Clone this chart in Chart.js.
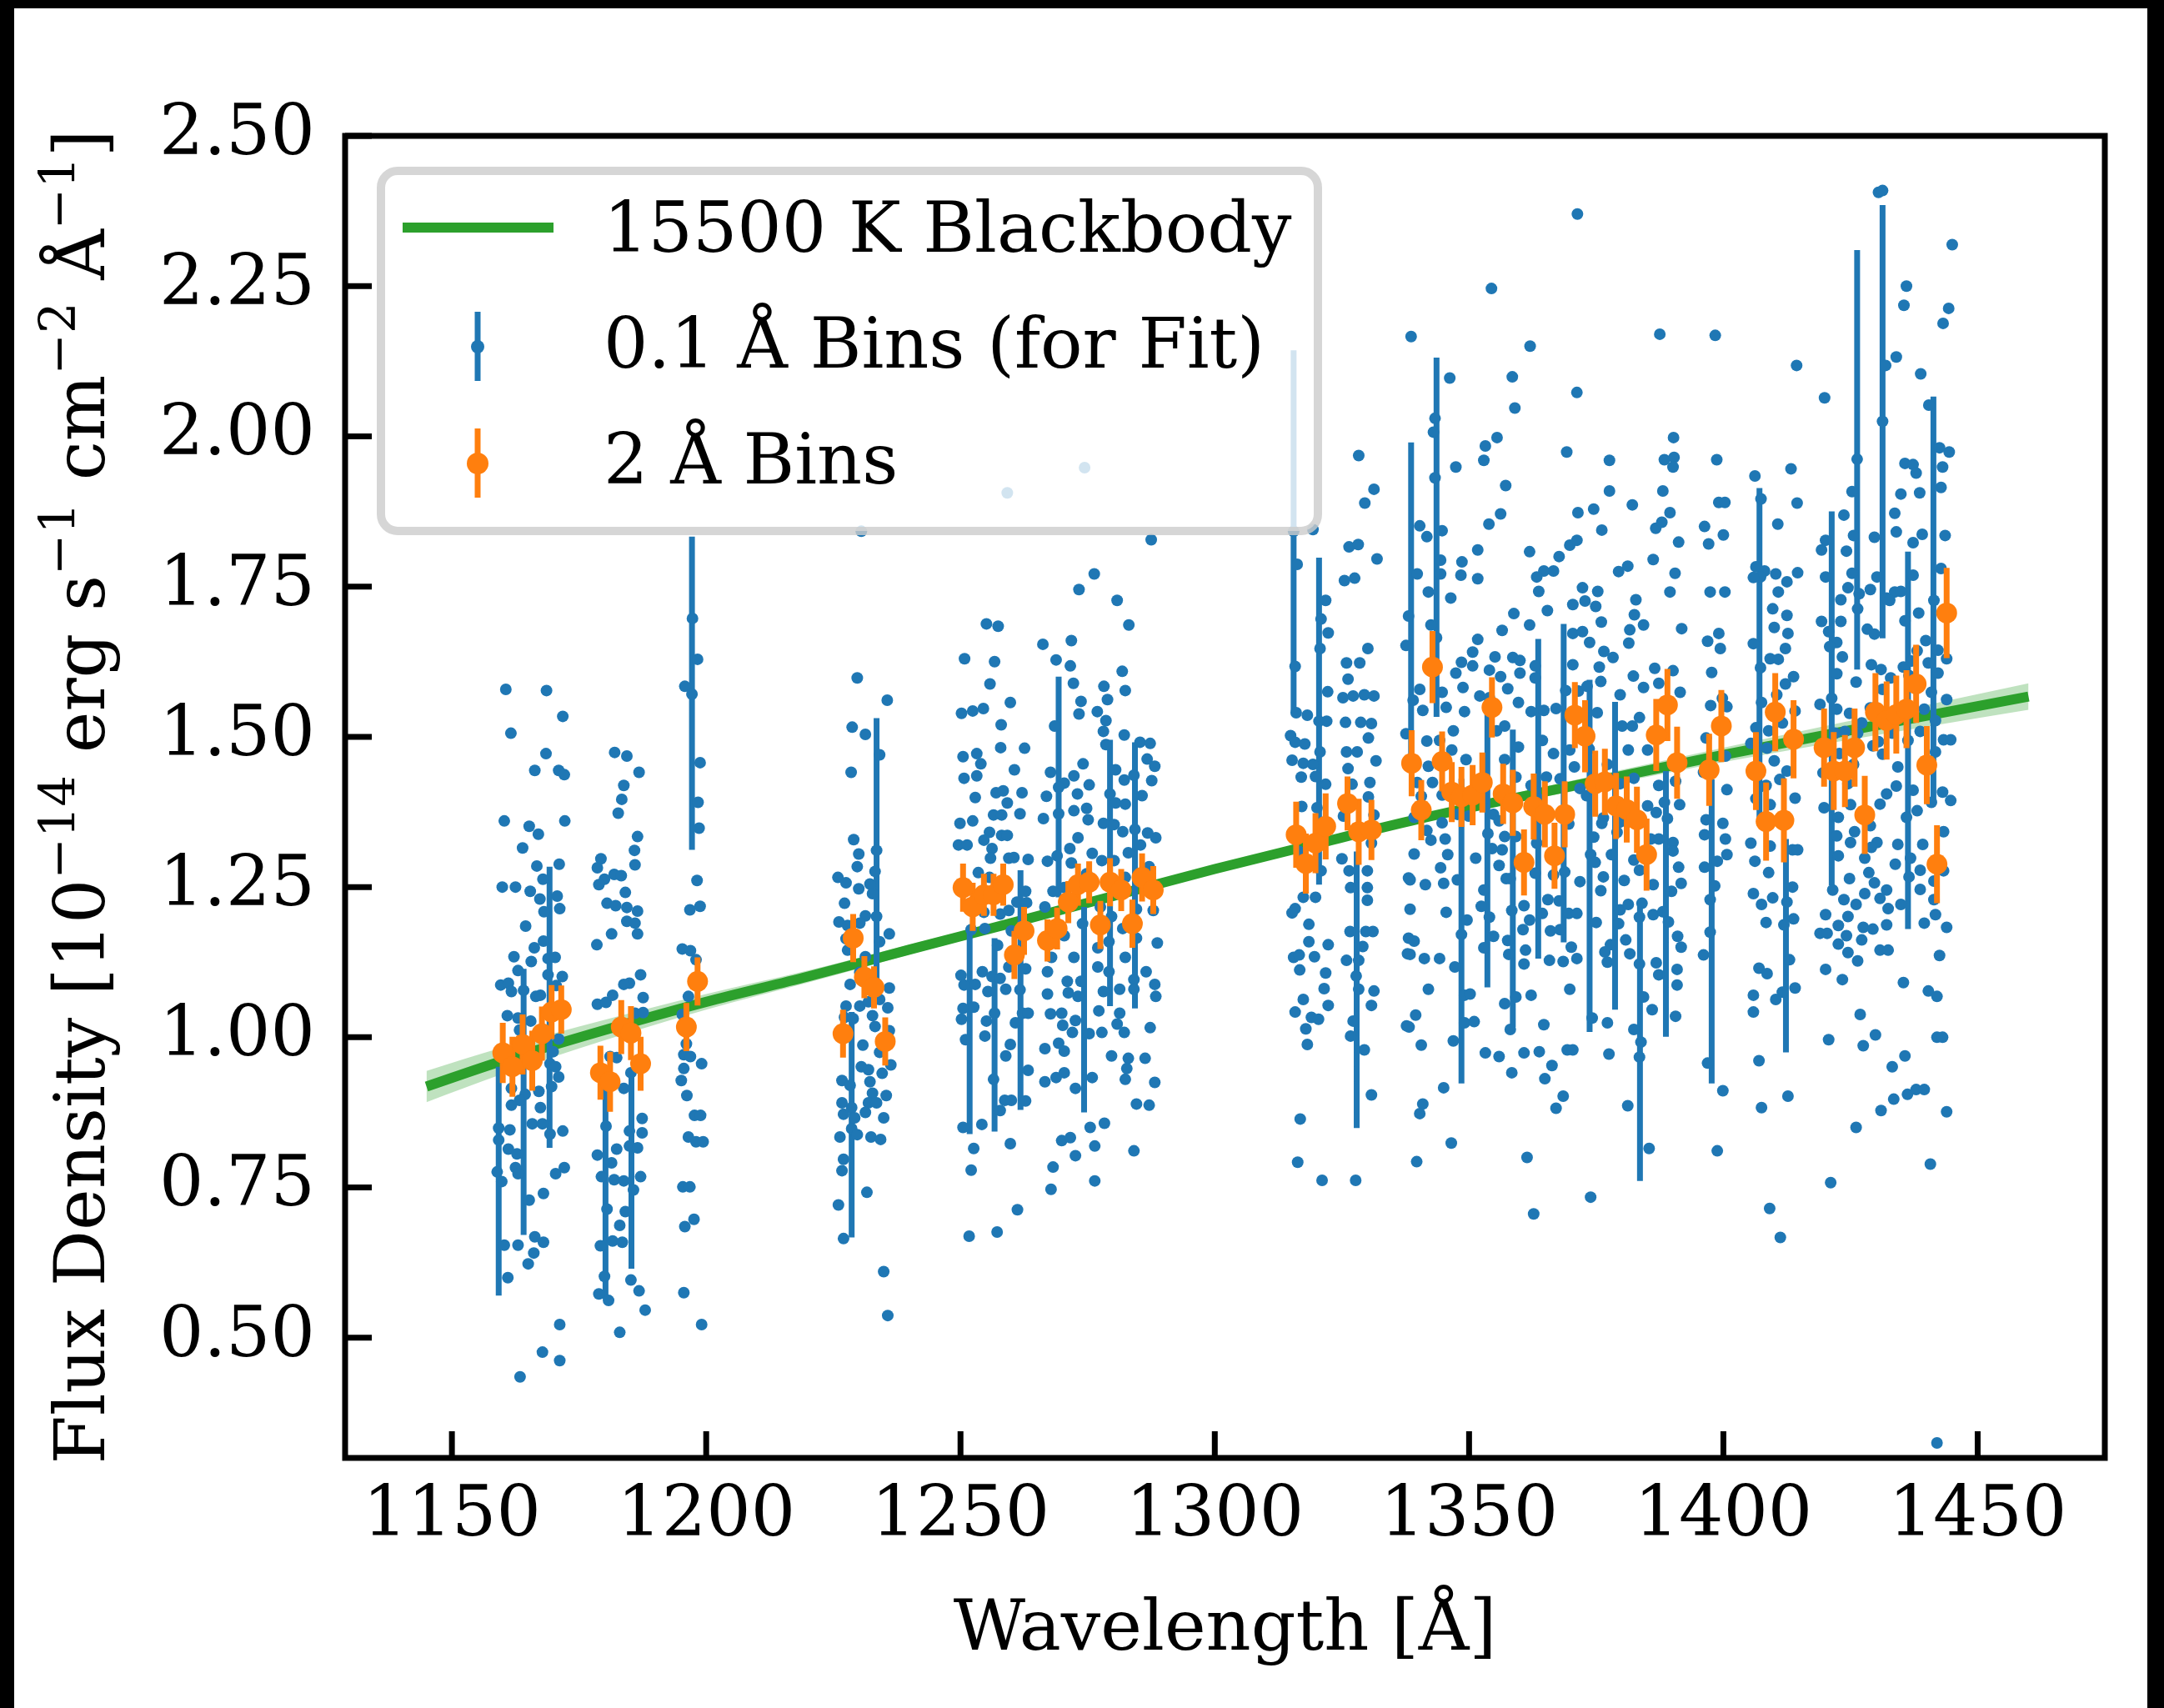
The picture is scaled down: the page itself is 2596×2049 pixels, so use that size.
<!DOCTYPE html>
<html>
<head>
<meta charset="utf-8">
<title>15500 K Blackbody fit</title>
<script src="https://cdn.jsdelivr.net/npm/chart.js@4.4.1/dist/chart.umd.min.js"></script>
<style>
  html, body { margin: 0; padding: 0; background: #fff; }
  canvas { display: block; }
</style>
</head>
<body>
<canvas id="fluxChart" width="2596" height="2049" style="width:2596px;height:2049px"></canvas>
<script>
// ─── Data ───────────────────────────────────────────────────────────────────

// Blackbody model curve and the half-width of its shaded uncertainty band
const bbWave = [1145, 1160, 1180, 1200, 1220, 1240, 1260, 1280, 1300, 1320, 1340, 1360, 1380, 1400, 1420, 1440, 1460];
const bbFlux = [0.918, 0.961, 1.012, 1.059, 1.101, 1.146, 1.190, 1.235, 1.280, 1.322, 1.363, 1.400, 1.435, 1.470, 1.503, 1.535, 1.567];
const bbBand = [0.026, 0.022, 0.017, 0.013, 0.010, 0.008, 0.007, 0.006, 0.006, 0.006, 0.007, 0.008, 0.010, 0.012, 0.015, 0.018, 0.022];

// 2 Å bins (orange)
const binWave = [
  1160.0, 1161.9, 1163.9, 1165.8, 1167.7, 1169.6, 1171.5,
  1179.2, 1181.1, 1183.3, 1185.2, 1187.1,
  1196.1, 1198.3,
  1226.9, 1228.9, 1231.1, 1233.0, 1235.2,
  1250.5, 1252.4, 1254.6, 1256.5, 1258.4, 1260.6, 1262.5, 1267.1, 1269.0, 1271.2, 1273.1, 1275.3, 1277.5, 1279.4, 1281.6, 1283.8, 1285.7, 1287.9,
  1316.0, 1317.9, 1319.8, 1321.8, 1326.1, 1328.3, 1330.8,
  1338.7, 1340.6, 1342.8, 1344.7, 1346.6, 1348.5, 1350.7, 1352.6, 1354.5, 1356.7, 1358.6, 1360.8, 1362.7, 1364.9, 1366.8, 1368.8, 1370.8,
  1372.8, 1374.8, 1376.7, 1378.9, 1381.0, 1383.0, 1384.9, 1386.8, 1389.0, 1390.9, 1397.2, 1399.6,
  1406.4, 1408.4, 1410.2, 1411.9, 1413.8, 1419.8, 1421.7, 1423.9, 1425.8, 1427.8, 1429.9, 1432.1, 1434.0, 1436.0, 1437.9, 1440.0, 1442.0, 1443.9
];
const binFlux = [
  0.974, 0.951, 0.988, 0.961, 1.006, 1.042, 1.046,
  0.941, 0.926, 1.017, 1.007, 0.956,
  1.017, 1.093,
  1.006, 1.165, 1.100, 1.083, 0.993,
  1.249, 1.217, 1.237, 1.237, 1.254, 1.137, 1.177, 1.161, 1.181, 1.225, 1.254, 1.258, 1.187, 1.258, 1.245, 1.189, 1.266, 1.245,
  1.337, 1.289, 1.323, 1.351, 1.389, 1.342, 1.345,
  1.456, 1.378, 1.616, 1.459, 1.408, 1.400, 1.403, 1.424, 1.549, 1.405, 1.390, 1.291, 1.384, 1.371, 1.302, 1.371, 1.536,
  1.501, 1.422, 1.425, 1.385, 1.379, 1.362, 1.304, 1.503, 1.553, 1.457, 1.445, 1.518,
  1.443, 1.359, 1.541, 1.361, 1.496, 1.482, 1.443, 1.443, 1.482, 1.370, 1.541, 1.527, 1.537, 1.546, 1.588, 1.453, 1.288, 1.706
];
const binErr = [
  0.050, 0.050, 0.050, 0.050, 0.045, 0.045, 0.040,
  0.045, 0.050, 0.045, 0.045, 0.045,
  0.040, 0.040,
  0.040, 0.040, 0.035, 0.035, 0.040,
  0.040, 0.040, 0.035, 0.035, 0.035, 0.040, 0.040, 0.035, 0.035, 0.035, 0.035, 0.035, 0.040, 0.040, 0.035, 0.040, 0.040, 0.040,
  0.055, 0.050, 0.050, 0.055, 0.045, 0.055, 0.050,
  0.055, 0.050, 0.060, 0.050, 0.050, 0.050, 0.050, 0.050, 0.050, 0.050, 0.055, 0.055, 0.055, 0.055, 0.055, 0.055, 0.055,
  0.060, 0.055, 0.055, 0.055, 0.055, 0.055, 0.060, 0.060, 0.060, 0.060, 0.060, 0.060,
  0.065, 0.065, 0.065, 0.070, 0.065, 0.065, 0.065, 0.060, 0.065, 0.065, 0.065, 0.065, 0.065, 0.065, 0.065, 0.065, 0.065, 0.075
];

// 0.1 Å bins: the long error bars that stand out in the figure
const fineErrWave = [
  1159.2, 1164.1, 1169.2, 1180.2, 1185.3, 1197.2,
  1228.6, 1233.5, 1251.8, 1256.7, 1261.8, 1269.3,
  1274.3, 1279.4, 1284.3, 1315.5, 1320.5, 1327.9,
  1338.6, 1343.6, 1348.5, 1353.6, 1358.6, 1363.6,
  1368.6, 1373.7, 1378.7, 1383.6, 1388.7, 1397.7,
  1407.1, 1412.3, 1421.3, 1426.3, 1431.3, 1436.3, 1441.3
];
const fineErrLow = [
  0.570, 0.671, 0.816, 0.565, 0.615, 1.312,
  0.667, 1.067, 0.839, 0.843, 0.879, 1.233,
  0.875, 1.052, 1.048, 1.542, 1.254, 0.849,
  1.450, 1.533, 0.923, 1.083, 1.017, 1.131,
  1.158, 1.009, 1.046, 0.761, 1.001, 0.923,
  1.352, 0.975, 1.253, 1.612, 1.664, 1.180, 1.391
];
const fineErrHigh = [
  0.951, 1.114, 1.284, 0.926, 0.946, 1.833,
  1.042, 1.531, 1.185, 1.165, 1.278, 1.600,
  1.217, 1.495, 1.491, 2.143, 1.798, 1.309,
  1.990, 2.131, 1.430, 1.558, 1.512, 1.663,
  1.688, 1.595, 1.558, 1.221, 1.443, 1.429,
  1.914, 1.330, 1.875, 2.310, 2.385, 1.808, 2.066
];

// 0.1 Å bins (blue), [wavelength, flux], one array per spectral window
const fine1160 = [
  [1160.6,1.579],[1168.6,1.577],[1161.6,1.506],[1171.8,1.534],[1168.5,1.472],[1166.3,1.444],[1171.0,1.444],[1172.1,1.437],
  [1160.3,1.360],[1165.2,1.351],[1167.0,1.338],[1172.2,1.360],[1163.9,1.315],[1166.7,1.285],[1171.1,1.288],[1159.9,1.250],
  [1162.5,1.250],[1165.4,1.243],[1167.9,1.263],[1167.3,1.230],[1170.7,1.235],[1171.2,1.214],[1168.1,1.209],[1164.5,1.185],
  [1166.2,1.149],[1168.0,1.160],[1162.2,1.134],[1165.6,1.126],[1168.9,1.131],[1170.3,1.133],[1163.0,1.111],[1159.6,1.087],
  [1161.1,1.090],[1161.7,1.076],[1164.1,1.078],[1168.9,1.104],[1171.7,1.101],[1170.5,1.086],[1166.5,1.068],[1167.4,1.070],
  [1160.9,1.036],[1163.0,1.032],[1165.5,1.027],[1163.3,1.012],[1171.0,0.997],[1169.9,0.976],[1169.3,0.956],[1170.4,0.951],
  [1161.7,0.915],[1164.4,0.905],[1167.1,0.910],[1169.6,0.918],[1171.0,0.934],[1163.3,0.895],[1167.4,0.883],[1161.7,0.887],
  [1165.8,0.856],[1167.8,0.856],[1159.2,0.849],[1161.4,0.846],[1169.3,0.839],[1171.8,0.844],[1159.2,0.829],[1161.1,0.814],
  [1162.8,0.806],[1162.5,0.783],[1158.9,0.776],[1159.8,0.760],[1170.4,0.773],[1172.1,0.783],[1163.0,0.773],[1165.2,0.729],
  [1168.0,0.740],[1160.3,0.654],[1163.0,0.654],[1166.3,0.668],[1168.0,0.659],[1166.1,0.641],[1165.0,0.623],[1161.0,0.600],
  [1171.2,0.522],[1167.8,0.476],[1171.2,0.462],[1163.4,0.435]
];
const fine1180 = [
  [1182.0,1.474],[1184.4,1.468],[1186.8,1.441],[1183.8,1.419],[1183.4,1.396],[1182.7,1.373],[1186.5,1.334],[1185.9,1.311],
  [1186.0,1.287],[1179.3,1.297],[1178.6,1.282],[1180.0,1.263],[1178.9,1.254],[1181.9,1.271],[1183.3,1.269],[1184.1,1.241],
  [1180.5,1.223],[1182.2,1.219],[1184.4,1.216],[1186.5,1.210],[1184.4,1.193],[1186.0,1.190],[1186.5,1.172],[1181.4,1.172],
  [1178.5,1.154],[1187.1,1.104],[1184.9,1.090],[1183.8,1.088],[1187.6,1.066],[1178.6,1.055],[1180.3,1.058],[1181.6,1.070],
  [1186.0,1.040],[1187.6,1.041],[1181.1,0.968],[1182.4,0.966],[1185.2,0.941],[1183.8,0.915],[1180.3,0.905],[1187.4,0.865],
  [1180.3,0.852],[1184.9,0.844],[1187.4,0.841],[1182.4,0.814],[1184.9,0.819],[1186.5,0.816],[1178.6,0.804],[1181.4,0.791],
  [1179.4,0.768],[1181.9,0.763],[1183.8,0.761],[1187.1,0.768],[1185.7,0.746],[1180.5,0.714],[1184.1,0.710],[1183.0,0.687],
  [1181.6,0.661],[1183.5,0.659],[1179.2,0.653],[1180.0,0.602],[1178.9,0.573],[1180.8,0.562],[1185.2,0.596],[1186.8,0.578],
  [1188.0,0.546],[1183.0,0.509]
];
const fine1197 = [
  [1197.3,1.697],[1198.3,1.629],[1195.8,1.584],[1197.2,1.571],[1198.8,1.457],[1198.4,1.391],[1198.6,1.348],[1198.2,1.261],
  [1196.8,1.212],[1198.8,1.218],[1195.3,1.147],[1196.9,1.144],[1198.0,1.129],[1196.5,1.068],[1195.3,1.038],[1196.1,0.989],
  [1195.6,0.971],[1196.9,0.968],[1199.1,0.956],[1195.6,0.948],[1195.1,0.928],[1196.2,0.903],[1197.7,0.870],[1198.9,0.870],
  [1196.5,0.834],[1198.0,0.826],[1199.4,0.826],[1195.4,0.751],[1196.8,0.751],[1195.8,0.685],[1197.6,0.697],[1195.6,0.575],
  [1199.1,0.522]
];
const fine1230 = [
  [1229.7,1.598],[1235.6,1.561],[1228.7,1.516],[1231.3,1.504],[1234.1,1.470],[1228.5,1.441],[1229.0,1.329],[1230.0,1.305],
  [1233.5,1.311],[1229.7,1.284],[1225.9,1.266],[1227.5,1.257],[1233.2,1.276],[1232.2,1.255],[1230.0,1.247],[1232.7,1.239],
  [1227.2,1.223],[1231.3,1.202],[1233.5,1.201],[1226.1,1.192],[1230.2,1.190],[1227.8,1.186],[1227.5,1.164],[1227.8,1.145],
  [1236.0,1.172],[1234.1,1.159],[1231.3,1.134],[1228.3,1.088],[1230.2,1.108],[1236.0,1.082],[1227.5,1.052],[1230.2,1.052],
  [1231.9,1.059],[1234.1,1.063],[1235.7,1.049],[1227.2,1.033],[1228.9,1.031],[1232.7,1.036],[1233.2,1.018],[1236.0,1.011],
  [1230.8,0.987],[1234.1,0.975],[1230.5,0.951],[1231.9,0.946],[1236.3,0.954],[1234.6,0.940],[1226.7,0.928],[1228.3,0.920],
  [1232.2,0.926],[1232.7,0.907],[1235.4,0.903],[1226.7,0.891],[1228.6,0.883],[1231.9,0.891],[1233.5,0.891],[1227.0,0.872],
  [1229.2,0.866],[1231.3,0.875],[1234.9,0.866],[1228.6,0.848],[1229.7,0.838],[1226.3,0.834],[1232.4,0.834],[1234.3,0.830],
  [1227.0,0.797],[1226.7,0.778],[1231.6,0.742],[1226.0,0.721],[1227.0,0.665],[1234.9,0.610],[1235.7,0.537],[1230.5,1.842]
];
const fine1270 = [
  [1287.5,1.828],[1276.3,1.771],[1273.3,1.745],[1280.8,1.727],[1283.1,1.686],[1255.1,1.688],[1257.4,1.684],[1250.8,1.630],
  [1256.7,1.625],[1266.2,1.654],[1271.8,1.660],[1268.8,1.628],[1271.6,1.618],[1272.2,1.589],[1281.8,1.609],[1282.4,1.577],
  [1255.8,1.588],[1278.2,1.584],[1278.9,1.562],[1273.7,1.559],[1273.3,1.538],[1250.2,1.539],[1252.4,1.543],[1254.5,1.547],
  [1259.8,1.557],[1276.9,1.542],[1278.6,1.527],[1278.1,1.509],[1258.0,1.520],[1268.5,1.518],[1282.2,1.503],[1285.3,1.491],
  [1287.3,1.489],[1278.6,1.487],[1257.9,1.482],[1262.6,1.481],[1250.5,1.467],[1253.2,1.472],[1254.0,1.455],[1260.6,1.445],
  [1286.7,1.463],[1288.2,1.451],[1267.7,1.441],[1272.3,1.435],[1274.1,1.455],[1275.3,1.420],[1270.4,1.423],[1280.5,1.445],
  [1282.2,1.428],[1284.1,1.436],[1287.6,1.427],[1250.7,1.431],[1253.2,1.435],[1257.0,1.407],[1258.4,1.410],[1262.1,1.407],
  [1252.9,1.399],[1259.2,1.390],[1266.9,1.401],[1273.0,1.405],[1279.4,1.405],[1280.5,1.390],[1282.4,1.388],[1285.7,1.402],
  [1256.5,1.370],[1261.7,1.372],[1258.1,1.370],[1269.3,1.372],[1272.3,1.377],[1274.8,1.381],[1266.3,1.364],[1275.1,1.362],
  [1249.9,1.356],[1252.4,1.360],[1278.1,1.356],[1280.2,1.354],[1281.9,1.342],[1284.3,1.346],[1286.8,1.340],[1288.4,1.332],
  [1255.7,1.341],[1254.6,1.328],[1258.1,1.336],[1259.2,1.336],[1249.6,1.320],[1251.3,1.320],[1256.2,1.314],[1273.1,1.332],
  [1271.5,1.314],[1285.4,1.320],[1255.9,1.298],[1259.5,1.298],[1260.5,1.299],[1263.3,1.296],[1267.1,1.293],[1269.0,1.302],
  [1271.8,1.290],[1275.9,1.306],[1277.8,1.294],[1280.2,1.294],[1283.0,1.307],[1287.1,1.284],[1253.5,1.274],[1255.7,1.266],
  [1262.8,1.243],[1268.2,1.243],[1274.8,1.272],[1282.4,1.266],[1286.8,1.258],[1261.1,1.225],[1263.0,1.224],[1266.6,1.217],
  [1270.4,1.249],[1277.5,1.217],[1279.7,1.201],[1284.6,1.213],[1287.9,1.211],[1254.6,1.208],[1257.8,1.205],[1259.5,1.211],
  [1252.1,1.179],[1254.8,1.181],[1260.0,1.177],[1274.0,1.189],[1270.4,1.169],[1281.9,1.181],[1279.2,1.159],[1284.6,1.165],
  [1288.7,1.157],[1257.3,1.153],[1267.9,1.133],[1272.3,1.133],[1277.0,1.149],[1282.4,1.133],[1259.5,1.117],[1262.8,1.114],
  [1250.1,1.103],[1250.7,1.087],[1252.9,1.088],[1254.3,1.109],[1256.2,1.101],[1257.8,1.098],[1267.1,1.109],[1271.0,1.093],
  [1273.7,1.093],[1277.0,1.117],[1279.2,1.109],[1281.3,1.080],[1284.1,1.096],[1286.5,1.109],[1288.2,1.088],[1255.4,1.076],
  [1258.9,1.080],[1261.7,1.079],[1267.1,1.072],[1271.2,1.074],[1273.1,1.068],[1278.1,1.076],[1284.1,1.080],[1288.4,1.068],
  [1250.5,1.048],[1252.6,1.050],[1256.7,1.040],[1262.2,1.040],[1267.7,1.039],[1269.9,1.040],[1272.6,1.028],[1277.2,1.044],
  [1281.3,1.040],[1250.2,1.030],[1255.1,1.027],[1260.8,1.024],[1263.3,1.040],[1270.1,1.020],[1272.0,1.008],[1275.3,1.006],
  [1277.8,1.008],[1280.8,1.022],[1282.2,1.008],[1287.3,1.016],[1251.0,0.996],[1254.8,1.002],[1259.8,0.988],[1269.3,0.990],
  [1270.4,0.977],[1279.7,0.969],[1283.0,0.965],[1286.3,0.965],[1258.9,0.969],[1266.6,0.981],[1282.7,0.948],[1282.4,0.930],
  [1256.5,0.930],[1263.3,0.945],[1266.6,0.926],[1268.8,0.933],[1270.4,0.941],[1272.6,0.915],[1275.9,0.933],[1288.2,0.925],
  [1258.7,0.895],[1257.8,0.878],[1260.0,0.895],[1262.8,0.894],[1284.6,0.889],[1287.1,0.887],[1250.5,0.850],[1254.2,0.855],
  [1259.8,0.823],[1269.9,0.828],[1271.6,0.833],[1275.5,0.850],[1278.3,0.857],[1252.6,0.815],[1272.6,0.803],[1276.4,0.819],
  [1284.1,0.811],[1252.1,0.779],[1268.2,0.784],[1276.4,0.761],[1267.8,0.747],[1261.2,0.713],[1257.2,0.676],[1251.7,0.669],
  [1259.2,1.906],[1274.4,1.948],[1269.3,1.416]
];
const fine1323 = [
  [1328.3,1.968],[1331.3,1.912],[1329.5,1.889],[1315.5,1.842],[1319.3,1.845],[1316.2,1.787],[1326.4,1.816],[1328.2,1.820],
  [1331.9,1.796],[1325.5,1.760],[1327.5,1.764],[1321.8,1.727],[1320.9,1.696],[1322.3,1.673],[1320.7,1.647],[1330.1,1.647],
  [1315.8,1.617],[1325.9,1.623],[1328.5,1.623],[1326.2,1.596],[1325.2,1.565],[1327.2,1.568],[1329.4,1.570],[1331.3,1.568],
  [1322.2,1.575],[1316.0,1.540],[1318.2,1.536],[1322.0,1.526],[1325.7,1.524],[1328.7,1.524],[1330.8,1.522],[1330.2,1.498],
  [1314.9,1.502],[1315.8,1.491],[1317.7,1.488],[1315.2,1.461],[1317.4,1.456],[1319.3,1.454],[1320.7,1.475],[1325.9,1.475],
  [1328.0,1.475],[1331.7,1.460],[1317.0,1.433],[1319.8,1.434],[1326.2,1.447],[1321.8,1.421],[1327.0,1.421],[1330.5,1.424],
  [1317.1,1.384],[1320.1,1.382],[1325.3,1.368],[1330.2,1.400],[1331.3,1.370],[1316.6,1.309],[1325.0,1.297],[1330.8,1.323],
  [1320.9,1.277],[1326.4,1.277],[1330.0,1.277],[1326.7,1.249],[1330.0,1.249],[1330.0,1.228],[1317.4,1.233],[1319.8,1.233],
  [1315.8,1.214],[1315.2,1.207],[1318.5,1.188],[1326.6,1.176],[1329.7,1.176],[1331.1,1.176],[1318.5,1.159],[1322.3,1.154],
  [1329.1,1.151],[1315.5,1.133],[1316.6,1.137],[1319.6,1.134],[1325.9,1.128],[1328.3,1.128],[1316.7,1.112],[1321.8,1.107],
  [1327.8,1.102],[1321.5,1.081],[1317.4,1.063],[1328.3,1.080],[1331.3,1.077],[1330.8,1.053],[1322.3,1.053],[1315.8,1.042],
  [1319.0,1.033],[1320.4,1.030],[1317.9,1.014],[1327.2,1.027],[1326.7,1.002],[1318.2,0.988],[1329.4,0.979],[1330.8,0.904],
  [1316.8,0.864],[1316.3,0.792],[1321.1,0.762],[1327.7,0.762],[1320.5,1.526]
];
const fine1355 = [
  [1337.6,1.652],[1337.6,1.505],[1337.9,1.139],[1337.7,1.019],[1338.1,1.701],[1338.1,1.265],[1338.1,1.165],
  [1354.4,2.246],[1338.6,2.166],[1362.0,2.150],[1346.2,2.097],[1358.5,2.099],[1371.2,2.073],[1359.0,2.047],[1353.2,1.984],
  [1355.5,1.998],[1352.9,1.960],[1369.2,1.974],[1347.4,1.949],[1343.3,2.030],[1343.0,2.007],[1343.3,1.931],[1357.2,1.918],
  [1356.2,1.871],[1371.4,1.873],[1353.9,1.854],[1340.3,1.851],[1341.7,1.833],[1344.7,1.843],[1361.9,1.808],[1369.8,1.819],
  [1371.2,1.827],[1351.7,1.811],[1344.4,1.794],[1348.6,1.791],[1367.7,1.800],[1366.6,1.776],[1364.7,1.776],[1363.3,1.766],
  [1339.8,1.771],[1344.4,1.771],[1348.4,1.769],[1351.7,1.763],[1363.7,1.742],[1342.0,1.741],[1372.3,1.748],[1346.4,1.731],
  [1365.4,1.710],[1370.4,1.720],[1358.8,1.705],[1342.5,1.686],[1361.9,1.686],[1356.5,1.677],[1370.4,1.672],[1372.3,1.675],
  [1351.7,1.662],[1343.6,1.665],[1350.7,1.641],[1348.5,1.624],[1355.1,1.633],[1358.6,1.632],[1360.0,1.627],[1363.0,1.618],
  [1347.4,1.606],[1350.7,1.618],[1354.0,1.611],[1356.2,1.600],[1360.0,1.606],[1357.6,1.580],[1363.0,1.598],[1370.4,1.620],
  [1340.3,1.579],[1344.7,1.574],[1348.8,1.582],[1352.1,1.568],[1369.0,1.577],[1371.5,1.576],[1339.0,1.561],[1340.9,1.544],
  [1345.5,1.549],[1349.1,1.542],[1354.0,1.565],[1359.7,1.557],[1362.2,1.542],[1364.7,1.544],[1367.1,1.547],[1357.0,1.518],
  [1355.4,1.510],[1346.9,1.510],[1341.7,1.493],[1344.2,1.494],[1364.4,1.494],[1359.7,1.483],[1369.8,1.478],[1346.6,1.478],
  [1344.7,1.460],[1349.4,1.462],[1357.0,1.462],[1366.6,1.472],[1370.7,1.450],[1342.0,1.451],[1339.8,1.424],[1342.8,1.424],
  [1359.2,1.433],[1362.2,1.419],[1365.2,1.433],[1367.9,1.430],[1340.6,1.401],[1344.7,1.403],[1352.9,1.398],[1357.8,1.395],
  [1371.8,1.414],[1347.7,1.371],[1349.9,1.368],[1354.8,1.371],[1355.9,1.360],[1369.6,1.355],[1339.2,1.366],[1341.7,1.344],
  [1344.7,1.357],[1342.5,1.328],[1345.3,1.330],[1353.7,1.339],[1357.0,1.334],[1359.2,1.334],[1363.3,1.323],[1345.8,1.304],
  [1351.3,1.298],[1354.5,1.314],[1356.5,1.312],[1339.2,1.305],[1344.4,1.282],[1355.9,1.286],[1358.1,1.264],[1363.0,1.273],
  [1366.6,1.270],[1368.8,1.275],[1338.4,1.262],[1341.4,1.254],[1345.0,1.256],[1347.7,1.262],[1352.9,1.245],[1357.3,1.264],
  [1365.5,1.229],[1367.7,1.227],[1371.8,1.259],[1345.5,1.208],[1352.4,1.218],[1358.4,1.211],[1360.8,1.219],[1361.9,1.195],
  [1364.4,1.206],[1369.6,1.206],[1338.4,1.213],[1349.6,1.195],[1354.0,1.200],[1360.6,1.179],[1348.5,1.171],[1352.9,1.149],
  [1354.8,1.168],[1357.6,1.161],[1366.0,1.177],[1367.9,1.179],[1339.2,1.160],[1338.4,1.138],[1341.2,1.131],[1344.2,1.131],
  [1347.2,1.117],[1357.8,1.138],[1361.1,1.145],[1360.8,1.122],[1365.8,1.128],[1368.5,1.126],[1371.2,1.131],[1370.1,1.150],
  [1342.0,1.080],[1349.1,1.070],[1350.2,1.072],[1357.0,1.056],[1359.2,1.067],[1362.2,1.070],[1369.8,1.080],[1339.5,1.037],
  [1338.2,1.017],[1349.1,1.024],[1351.0,1.026],[1358.1,1.013],[1364.7,1.021],[1340.6,0.987],[1346.9,0.994],[1353.2,0.974],
  [1355.9,0.968],[1360.8,0.974],[1363.8,0.976],[1369.3,0.979],[1370.4,0.979],[1358.4,0.941],[1366.3,0.953],[1364.9,0.931],
  [1345.0,0.916],[1340.9,0.889],[1340.3,0.873],[1368.5,0.902],[1367.1,0.882],[1346.5,0.824],[1339.7,0.793],[1361.4,0.800],
  [1362.7,0.706],[1371.3,2.370],[1363.6,1.397]
];
const fine1387 = [
  [1387.5,2.170],[1398.4,2.168],[1390.2,1.998],[1377.6,1.960],[1388.4,1.961],[1390.3,1.965],[1390.1,1.949],[1398.7,1.961],
  [1377.6,1.909],[1388.1,1.909],[1382.1,1.886],[1374.5,1.879],[1376.1,1.844],[1386.7,1.847],[1387.9,1.857],[1389.5,1.873],
  [1391.2,1.824],[1396.3,1.850],[1397.1,1.821],[1399.1,1.890],[1400.3,1.890],[1400.0,1.836],[1386.2,1.795],[1379.4,1.775],
  [1381.2,1.784],[1390.5,1.772],[1375.3,1.742],[1389.5,1.741],[1397.4,1.741],[1400.3,1.741],[1382.8,1.728],[1372.8,1.726],
  [1374.9,1.717],[1382.5,1.703],[1376.0,1.691],[1384.3,1.686],[1381.6,1.678],[1391.8,1.680],[1396.9,1.659],[1399.1,1.672],
  [1399.4,1.647],[1381.4,1.656],[1373.7,1.657],[1376.5,1.642],[1378.3,1.632],[1375.6,1.616],[1382.3,1.601],[1386.5,1.614],
  [1390.1,1.610],[1397.7,1.607],[1375.9,1.592],[1373.2,1.584],[1379.7,1.570],[1384.3,1.582],[1387.3,1.589],[1391.5,1.574],
  [1397.5,1.552],[1399.8,1.564],[1400.7,1.550],[1375.2,1.540],[1380.1,1.518],[1382.1,1.518],[1383.5,1.532],[1396.6,1.498],
  [1400.4,1.468],[1381.3,1.478],[1385.1,1.478],[1377.2,1.454],[1373.6,1.480],[1390.6,1.426],[1379.7,1.422],[1382.4,1.431],
  [1387.3,1.419],[1396.1,1.441],[1400.7,1.412],[1373.1,1.402],[1376.4,1.365],[1379.4,1.391],[1388.4,1.391],[1391.4,1.387],
  [1376.1,1.356],[1379.6,1.358],[1385.1,1.385],[1386.8,1.374],[1389.0,1.364],[1396.6,1.362],[1399.9,1.356],[1374.5,1.333],
  [1379.1,1.341],[1385.7,1.330],[1387.3,1.330],[1390.1,1.324],[1396.3,1.337],[1400.4,1.330],[1373.9,1.304],[1378.0,1.304],
  [1382.4,1.295],[1390.1,1.310],[1400.7,1.304],[1374.8,1.291],[1383.5,1.278],[1391.2,1.283],[1396.3,1.283],[1398.8,1.293],
  [1376.4,1.267],[1380.5,1.261],[1386.2,1.254],[1391.7,1.256],[1398.3,1.252],[1375.9,1.244],[1389.8,1.243],[1375.0,1.191],
  [1379.7,1.212],[1381.3,1.221],[1384.0,1.223],[1386.2,1.204],[1383.5,1.200],[1388.1,1.209],[1389.2,1.192],[1397.4,1.229],
  [1371.2,1.206],[1379.4,1.189],[1377.8,1.154],[1380.8,1.162],[1397.4,1.175],[1391.0,1.168],[1391.7,1.150],[1376.7,1.142],
  [1381.6,1.139],[1377.2,1.125],[1383.5,1.122],[1386.8,1.124],[1387.3,1.104],[1390.9,1.113],[1390.9,1.087],[1396.1,1.137],
  [1384.3,1.067],[1386.0,1.046],[1374.2,1.032],[1377.2,1.024],[1390.6,1.035],[1382.4,1.013],[1383.8,0.992],[1383.5,0.967],
  [1377.5,0.972],[1396.9,0.957],[1381.2,0.886],[1399.9,0.911],[1385.4,0.815],[1398.8,0.811],[1373.9,0.734]
];
const fine1425 = [
  [1430.5,2.406],[1431.3,2.409],[1445.0,2.319],[1436.0,2.250],[1435.5,2.218],[1444.3,2.213],[1443.2,2.188],[1414.4,2.118],
  [1434.0,2.132],[1438.8,2.104],[1419.9,2.064],[1440.4,2.052],[1431.9,2.118],[1431.3,2.025],[1406.2,1.934],[1413.3,1.946],
  [1414.5,1.889],[1407.4,1.896],[1426.3,1.962],[1435.7,1.955],[1437.3,1.953],[1437.9,1.939],[1442.5,1.981],[1444.4,1.974],
  [1443.1,1.949],[1425.3,1.908],[1434.9,1.904],[1438.6,1.906],[1442.8,1.915],[1410.7,1.854],[1423.7,1.869],[1433.7,1.872],
  [1420.1,1.827],[1425.6,1.835],[1429.7,1.832],[1434.0,1.841],[1437.3,1.823],[1439.1,1.837],[1443.6,1.835],[1419.3,1.811],
  [1424.2,1.809],[1406.4,1.783],[1408.1,1.776],[1410.3,1.771],[1414.6,1.773],[1412.5,1.758],[1407.3,1.766],[1405.9,1.765],
  [1420.1,1.766],[1425.3,1.772],[1430.2,1.766],[1432.1,1.731],[1433.7,1.741],[1434.9,1.742],[1437.3,1.769],[1442.8,1.780],
  [1410.8,1.741],[1423.1,1.728],[1424.5,1.748],[1426.7,1.738],[1428.9,1.745],[1432.7,1.727],[1441.4,1.727],[1409.7,1.713],
  [1412.5,1.702],[1419.3,1.692],[1423.1,1.692],[1426.4,1.713],[1435.7,1.693],[1438.4,1.706],[1410.0,1.682],[1412.7,1.672],
  [1420.7,1.675],[1428.3,1.679],[1429.7,1.671],[1405.9,1.655],[1422.3,1.657],[1407.3,1.615],[1420.9,1.650],[1423.4,1.633],
  [1439.8,1.660],[1442.2,1.644],[1443.9,1.630],[1409.2,1.630],[1410.8,1.629],[1412.2,1.647],[1438.1,1.643],[1435.4,1.616],
  [1437.0,1.626],[1440.3,1.623],[1429.1,1.620],[1431.0,1.612],[1413.8,1.600],[1412.2,1.588],[1422.3,1.605],[1426.1,1.591],
  [1436.5,1.602],[1442.2,1.606],[1410.5,1.570],[1431.3,1.579],[1432.9,1.598],[1440.9,1.574],[1443.9,1.562],[1407.5,1.557],
  [1419.0,1.554],[1422.3,1.546],[1414.1,1.543],[1424.8,1.539],[1427.2,1.523],[1428.9,1.548],[1439.5,1.546],[1406.4,1.515],
  [1408.9,1.510],[1411.6,1.523],[1422.0,1.506],[1423.9,1.509],[1426.4,1.506],[1430.5,1.492],[1433.2,1.506],[1438.7,1.509],
  [1441.7,1.527],[1405.4,1.489],[1408.6,1.481],[1410.0,1.460],[1422.8,1.472],[1429.4,1.485],[1431.3,1.471],[1441.7,1.475],
  [1443.3,1.495],[1444.7,1.495],[1419.6,1.440],[1412.5,1.443],[1425.6,1.454],[1434.3,1.450],[1407.0,1.416],[1408.4,1.419],
  [1411.1,1.429],[1424.5,1.422],[1432.1,1.405],[1434.0,1.418],[1437.3,1.411],[1443.1,1.408],[1444.7,1.394],[1406.4,1.397],
  [1409.2,1.387],[1414.1,1.398],[1419.8,1.382],[1425.0,1.387],[1430.8,1.388],[1436.0,1.366],[1438.1,1.377],[1440.9,1.391],
  [1422.6,1.366],[1428.9,1.352],[1409.2,1.318],[1405.4,1.323],[1413.6,1.312],[1414.6,1.312],[1422.3,1.335],[1425.8,1.342],
  [1425.0,1.324],[1430.2,1.324],[1429.1,1.316],[1434.3,1.321],[1439.2,1.321],[1443.3,1.342],[1406.2,1.293],[1408.9,1.274],
  [1422.6,1.302],[1427.8,1.298],[1433.8,1.288],[1436.8,1.298],[1438.7,1.278],[1413.6,1.250],[1412.5,1.225],[1424.8,1.264],
  [1428.6,1.274],[1429.7,1.257],[1436.5,1.267],[1438.7,1.246],[1441.4,1.260],[1405.9,1.239],[1409.7,1.232],[1421.5,1.245],
  [1423.7,1.229],[1427.8,1.239],[1432.1,1.245],[1443.3,1.277],[1407.5,1.221],[1413.8,1.197],[1426.1,1.221],[1430.8,1.231],
  [1432.4,1.214],[1434.9,1.221],[1441.4,1.229],[1408.4,1.191],[1411.9,1.187],[1420.1,1.204],[1422.6,1.186],[1424.5,1.201],
  [1427.5,1.183],[1429.4,1.180],[1432.1,1.187],[1439.5,1.190],[1441.7,1.204],[1443.9,1.183],[1419.0,1.173],[1420.4,1.173],
  [1424.2,1.169],[1422.6,1.155],[1427.2,1.162],[1424.5,1.141],[1426.4,1.127],[1430.8,1.145],[1432.4,1.145],[1442.5,1.136],
  [1407.0,1.115],[1408.6,1.106],[1413.0,1.129],[1420.1,1.113],[1423.4,1.096],[1411.6,1.075],[1405.9,1.070],[1414.1,1.082],
  [1435.4,1.091],[1440.3,1.077],[1442.0,1.068],[1405.9,1.042],[1410.3,1.063],[1426.9,1.038],[1420.7,0.996],[1427.5,0.986],
  [1429.9,1.004],[1442.0,1.000],[1443.1,1.000],[1407.0,0.961],[1433.2,0.951],[1435.7,0.969],[1407.5,0.883],[1412.7,0.902],
  [1433.5,0.897],[1436.2,0.905],[1437.9,0.913],[1439.5,0.913],[1431.0,0.878],[1443.9,0.876],[1426.1,0.850],[1440.7,0.789],
  [1421.1,0.758],[1409.1,0.715],[1411.2,0.667],[1442.0,0.325],[1421.3,1.564],[1436.3,1.494]
];

const xTicks = [1150, 1200, 1250, 1300, 1350, 1400, 1450];
const yTicks = [0.50, 0.75, 1.00, 1.25, 1.50, 1.75, 2.00, 2.25, 2.50];
const legendLabels = ["15500 K Blackbody", "0.1 Å Bins (for Fit)", "2 Å Bins"];
const xTitle = "Wavelength [Å]";
// y label pieces; the second item says whether the piece is a superscript
const yTitleParts = [
  ["Flux Density [10", false], ["\u221214", true], [" erg s", false], ["\u22121", true],
  [" cm", false], ["\u22122", true], [" Å", false], ["\u22121", true], ["]", false]
];

// ─── Styling ────────────────────────────────────────────────────────────────
const BLUE = "#1f77b4";
const ORANGE = "#ff7f0e";
const GREEN = "#2ca02c";
const FONT_FAMILY = "'DejaVu Serif', serif";
const FONT_SIZE = 84;
const SUP_SIZE = 59;
const SUP_RISE = 35;
const TICK_LEN = 32;
const SPINE_W = 7;

// ─── Build datasets from the arrays ─────────────────────────────────────────
const finePoints = [fine1160, fine1180, fine1197, fine1230, fine1270, fine1323, fine1355, fine1387, fine1425]
  .flat()
  .map(([w, f]) => ({ x: w, y: f }));

// error bars as broken line segments: low, high, gap
function barSegments(waves, lows, highs) {
  const out = [];
  waves.forEach((w, i) => {
    out.push({ x: w, y: lows[i] }, { x: w, y: highs[i] }, { x: w, y: null });
  });
  return out;
}

const fineBars = barSegments(fineErrWave, fineErrLow, fineErrHigh);
const binBars = barSegments(
  binWave,
  binFlux.map((f, i) => f - binErr[i]),
  binFlux.map((f, i) => f + binErr[i])
);
const binPoints = binWave.map((w, i) => ({ x: w, y: binFlux[i] }));
const bbLine = bbWave.map((w, i) => ({ x: w, y: bbFlux[i] }));
const bbLow = bbWave.map((w, i) => ({ x: w, y: bbFlux[i] - bbBand[i] }));
const bbHigh = bbWave.map((w, i) => ({ x: w, y: bbFlux[i] + bbBand[i] }));

// ─── Plugins: white page, inward ticks + spines, y label, legend, black edge ─
function drawYTitle(ctx, chartArea) {
  const mainFont = `${FONT_SIZE}px ${FONT_FAMILY}`;
  const supFont = `${SUP_SIZE}px ${FONT_FAMILY}`;
  let total = 0;
  const widths = yTitleParts.map(([txt, sup]) => {
    ctx.font = sup ? supFont : mainFont;
    const w = ctx.measureText(txt).width;
    total += w;
    return w;
  });
  ctx.save();
  ctx.translate(125, (chartArea.top + chartArea.bottom) / 2);
  ctx.rotate(-Math.PI / 2);
  ctx.fillStyle = "#000";
  ctx.textAlign = "left";
  ctx.textBaseline = "alphabetic";
  let x = -total / 2;
  yTitleParts.forEach(([txt, sup], i) => {
    ctx.font = sup ? supFont : mainFont;
    ctx.fillText(txt, x, sup ? -SUP_RISE : 0);
    x += widths[i];
  });
  ctx.restore();
}

const figureDecor = {
  id: "figureDecor",
  beforeDraw(chart) {
    const { ctx, width, height } = chart;
    ctx.save();
    ctx.fillStyle = "#fff";
    ctx.fillRect(0, 0, width, height);
    ctx.restore();
  },
  afterDatasetsDraw(chart) {
    const { ctx, chartArea: a, scales } = chart;
    ctx.save();
    ctx.strokeStyle = "#000";
    ctx.lineWidth = SPINE_W;
    ctx.beginPath();
    xTicks.forEach((v) => {
      const px = scales.x.getPixelForValue(v);
      ctx.moveTo(px, a.bottom);
      ctx.lineTo(px, a.bottom - TICK_LEN);
    });
    yTicks.forEach((v) => {
      const py = scales.y.getPixelForValue(v);
      ctx.moveTo(a.left, py);
      ctx.lineTo(a.left + TICK_LEN, py);
    });
    ctx.stroke();
    ctx.strokeRect(a.left, a.top, a.right - a.left, a.bottom - a.top);
    ctx.restore();
  },
  afterDraw(chart) {
    const { ctx, width, height, chartArea } = chart;
    drawYTitle(ctx, chartArea);
    ctx.save();

    // legend frame
    ctx.beginPath();
    ctx.roundRect(457, 205, 1124, 432, 20);
    ctx.fillStyle = "rgba(255,255,255,0.8)";
    ctx.fill();
    ctx.lineWidth = 10;
    ctx.strokeStyle = "rgba(204,204,204,0.8)";
    ctx.stroke();

    // handles
    ctx.lineCap = "butt";
    ctx.strokeStyle = GREEN;
    ctx.lineWidth = 12;
    ctx.beginPath();
    ctx.moveTo(483, 273);
    ctx.lineTo(664, 273);
    ctx.stroke();

    ctx.lineWidth = 7;
    ctx.strokeStyle = BLUE;
    ctx.beginPath();
    ctx.moveTo(573, 374);
    ctx.lineTo(573, 457);
    ctx.stroke();
    ctx.fillStyle = BLUE;
    ctx.beginPath();
    ctx.arc(573, 416, 8, 0, Math.PI * 2);
    ctx.fill();

    ctx.strokeStyle = ORANGE;
    ctx.beginPath();
    ctx.moveTo(573, 514);
    ctx.lineTo(573, 597);
    ctx.stroke();
    ctx.fillStyle = ORANGE;
    ctx.beginPath();
    ctx.arc(573, 556, 13, 0, Math.PI * 2);
    ctx.fill();

    // labels
    ctx.fillStyle = "#000";
    ctx.font = `${FONT_SIZE}px ${FONT_FAMILY}`;
    ctx.textBaseline = "alphabetic";
    ctx.textAlign = "left";
    [302, 441, 580].forEach((y, i) => ctx.fillText(legendLabels[i], 724, y));

    // black edge of the original image
    ctx.fillStyle = "#000";
    ctx.fillRect(0, 0, width, 10);
    ctx.fillRect(0, 0, 17, height);
    ctx.fillRect(width - 20, 0, 20, height);
    ctx.restore();
  },
};

const tickFont = { family: FONT_FAMILY, size: FONT_SIZE, lineHeight: 1.2 };

new Chart(document.getElementById("fluxChart"), {
  type: "scatter",
  data: {
    datasets: [
      {
        label: "2 Å Bins",
        data: binPoints,
        pointRadius: 12.5,
        pointBackgroundColor: ORANGE,
        pointBorderWidth: 0,
        order: 1,
      },
      {
        label: "2 Å Bins errors",
        data: binBars,
        showLine: true,
        spanGaps: false,
        borderColor: ORANGE,
        borderWidth: 7,
        pointRadius: 0,
        order: 2,
      },
      {
        label: "0.1 Å Bins (for Fit)",
        data: finePoints,
        pointRadius: 7,
        pointBackgroundColor: BLUE,
        pointBorderWidth: 0,
        order: 3,
      },
      {
        label: "0.1 Å Bins errors",
        data: fineBars,
        showLine: true,
        spanGaps: false,
        borderColor: BLUE,
        borderWidth: 7,
        pointRadius: 0,
        order: 4,
      },
      {
        label: "15500 K Blackbody",
        data: bbLine,
        showLine: true,
        borderColor: GREEN,
        borderWidth: 12,
        pointRadius: 0,
        cubicInterpolationMode: "monotone",
        order: 5,
      },
      {
        label: "band low",
        data: bbLow,
        showLine: true,
        borderWidth: 0,
        pointRadius: 0,
        fill: false,
        cubicInterpolationMode: "monotone",
        order: 6,
      },
      {
        label: "band high",
        data: bbHigh,
        showLine: true,
        borderWidth: 0,
        pointRadius: 0,
        fill: "-1",
        backgroundColor: "rgba(44,160,44,0.3)",
        cubicInterpolationMode: "monotone",
        order: 7,
      },
    ],
  },
  options: {
    responsive: false,
    animation: false,
    devicePixelRatio: 1,
    layout: { padding: { top: 163, right: 71, left: 0, bottom: 0 } },
    plugins: {
      legend: { display: false },
      tooltip: { enabled: false },
    },
    scales: {
      x: {
        type: "linear",
        min: 1129,
        max: 1475,
        afterBuildTicks: (s) => { s.ticks = xTicks.map((v) => ({ value: v })); },
        afterFit: (s) => { s.height = 300; },
        grid: { display: false, drawTicks: false },
        border: { display: false },
        ticks: {
          font: tickFont,
          color: "#000",
          padding: 21,
          maxRotation: 0,
          minRotation: 0,
          autoSkip: false,
          callback: (v) => String(v),
        },
        title: {
          display: true,
          text: xTitle,
          color: "#000",
          font: tickFont,
          padding: { top: 0, bottom: 41 },
        },
      },
      y: {
        type: "linear",
        min: 0.3,
        max: 2.5,
        afterBuildTicks: (s) => { s.ticks = yTicks.map((v) => ({ value: v })); },
        afterFit: (s) => { s.width = 414; },
        grid: { display: false, drawTicks: false },
        border: { display: false },
        ticks: {
          font: tickFont,
          color: "#000",
          padding: 36,
          autoSkip: false,
          callback: (v) => Number(v).toFixed(2),
        },
        title: { display: false },
      },
    },
  },
  plugins: [figureDecor],
});
</script>
</body>
</html>
